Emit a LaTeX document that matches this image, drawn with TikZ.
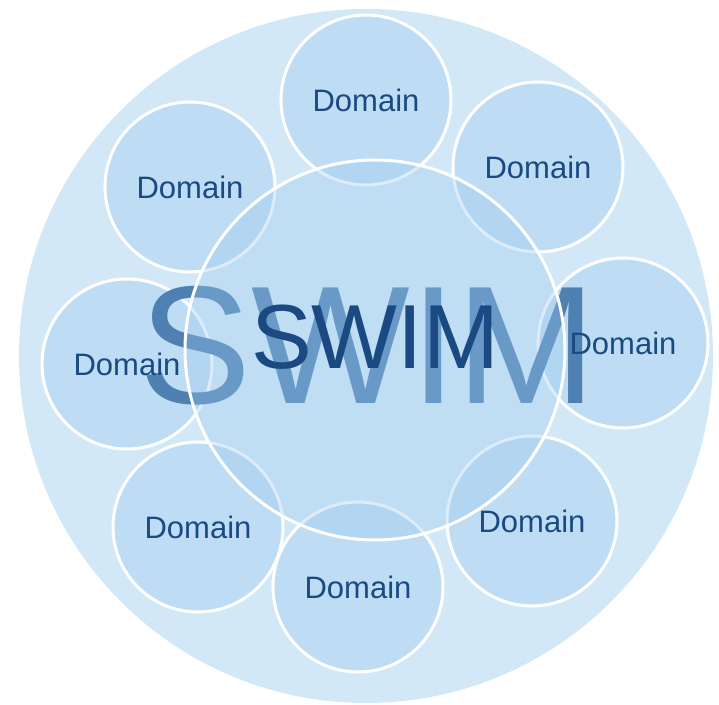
\documentclass[tikz,border=0pt]{standalone}
\usepackage{fontspec}
\setmainfont{Liberation Sans}
\usepackage{xcolor}
\usepackage{tikz}
\usetikzlibrary{positioning}
\definecolor{poolblue}{HTML}{D3E8F7}
\definecolor{domainblue}{HTML}{BEDDF5}
\definecolor{hubblue}{HTML}{9CC9EC}
\definecolor{bigblue}{HTML}{4E80B2}
\definecolor{navy}{HTML}{1B4A82}
\tikzstyle{pool} = [circle, minimum size=347pt, inner sep=0, fill=poolblue]
\tikzstyle{domaincircle} = [circle, minimum size=85pt, inner sep=0, draw=white, line width=1.5pt, fill=domainblue]
\tikzstyle{hub} = [circle, minimum size=190pt, inner sep=0, draw=white, line width=1.5pt, fill=hubblue, fill opacity=0.35]
\tikzstyle{domaintext} = [inner sep=0, text=navy, font=\fontsize{15.5}{18}\selectfont]
\tikzstyle{bigswim} = [inner sep=0, text=bigblue, font=\fontsize{84}{84}\selectfont]
\tikzstyle{swim} = [inner sep=0, text=navy, font=\fontsize{45.5}{46}\selectfont]

\begin{document}
\begin{tikzpicture}[x=0.5pt, y=-0.5pt]
  \useasboundingbox (0,0) rectangle (719,705);
  \node (pool) [pool] at (366,356) {};

  % ring of domains, clockwise from the top
  \foreach \i/\x/\y in {1/366/100, 2/538/167, 3/623/343, 4/532/521,
                        5/358/587, 6/198/527, 7/127/364, 8/190/187}
    \node (d\i) [domaincircle] at (\x,\y) {};

  \node (bigswim) [bigswim] at (368,346) {SWIM};
  \node (hub) [hub] at (375,350) {};
  \node (swim) [swim] at (375,337) {SWIM};

  \foreach \i in {1,...,8}
    \node (t\i) [domaintext] at (d\i) {Domain};
\end{tikzpicture}
\end{document}
